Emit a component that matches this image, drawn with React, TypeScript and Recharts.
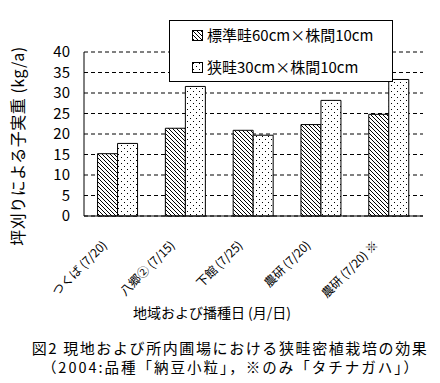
import {Bar, BarChart, CartesianGrid, XAxis, YAxis} from 'recharts';

const sites = ['つくば (7/20)', '八郷② (7/15)', '下館 (7/25)', '農研 (7/20)', '農研 (7/20) ※'];
const standardYield = [15.2, 21.4, 20.9, 22.3, 24.8];
const narrowYield = [17.7, 31.6, 19.7, 28.2, 33.3];
const yTicks = [0, 5, 10, 15, 20, 25, 30, 35, 40];
const seriesNames = ['標準畦60cm×株間10cm', '狭畦30cm×株間10cm'];

const FONT = '"Noto Sans CJK JP", sans-serif';

const data = sites.map((site, i) => ({site, standard: standardYield[i], narrow: narrowYield[i]}));

function Patterns() {
  return (
    <defs>
      <pattern id="hatch" width="4" height="4" patternUnits="userSpaceOnUse">
        <rect width="4" height="4" fill="#fff" />
        <path d="M-1,-1 L5,5 M-1,3 L1,5 M3,-1 L5,1" stroke="#000" strokeWidth="1" />
      </pattern>
      <pattern id="dots" width="6" height="6" patternUnits="userSpaceOnUse">
        <rect width="6" height="6" fill="#fff" />
        <rect x="1" y="1" width="1" height="1" fill="#000" />
        <rect x="4" y="4" width="1" height="1" fill="#000" />
      </pattern>
    </defs>
  );
}

function SiteTick({x, y, payload}: any) {
  const tx = x - 10;
  const ty = y + 22;
  return (
    <text x={tx} y={ty} transform={`rotate(-45 ${tx} ${ty})`} textAnchor="end" fontSize={12} fontFamily={FONT} fill="#000">
      {payload.value}
    </text>
  );
}

export default function App() {
  return (
    <div style={{position: 'absolute', left: 0, top: 0, width: 440, height: 383, background: '#fff', fontFamily: FONT}}>
      <BarChart width={440} height={383} data={data} margin={{top: 52, right: 17, bottom: 67, left: 54}} barGap={0} barCategoryGap="20%">
        <Patterns />
        <CartesianGrid vertical={false} stroke="#000" strokeDasharray="4 3" />
        <XAxis dataKey="site" height={100} interval={0} tick={<SiteTick />} tickLine={false} axisLine={{stroke: '#000'}} />
        <YAxis
          width={30}
          domain={[0, 40]}
          ticks={yTicks}
          interval={0}
          tickLine={false}
          tickMargin={8}
          axisLine={{stroke: '#000'}}
          tick={{fill: '#000', fontSize: 15, fontFamily: FONT}}
        />
        <Bar dataKey="standard" fill="url(#hatch)" stroke="#000" strokeWidth={1} isAnimationActive={false} />
        <Bar dataKey="narrow" fill="url(#dots)" stroke="#000" strokeWidth={1} isAnimationActive={false} />
      </BarChart>

      <div
        style={{
          position: 'absolute',
          left: 169,
          top: 20,
          width: 222,
          height: 60,
          border: '1px solid #000',
          background: '#fff',
          fontSize: 15,
          color: '#000',
        }}
      >
        {seriesNames.map((name, i) => (
          <div key={name} style={{position: 'absolute', left: 22, top: i === 0 ? 5 : 37, display: 'flex', alignItems: 'center', whiteSpace: 'nowrap'}}>
            <svg width={11} height={11} style={{marginRight: 4}}>
              <Patterns />
              <rect x={0.5} y={0.5} width={10} height={10} fill={i === 0 ? 'url(#hatch)' : 'url(#dots)'} stroke="#000" />
            </svg>
            <span style={{lineHeight: '18px'}}>{name}</span>
          </div>
        ))}
      </div>

      <div
        style={{
          position: 'absolute',
          left: 17,
          top: 146,
          transform: 'translate(-50%, -50%) rotate(-90deg)',
          whiteSpace: 'nowrap',
          fontSize: 16,
          letterSpacing: '0.5px',
          color: '#000',
        }}
      >
        坪刈りによる子実重 (kg/a)
      </div>

      <div style={{position: 'absolute', left: 0, width: 424, top: 303, textAlign: 'center', fontSize: 14, lineHeight: '18px', color: '#000'}}>
        地域および播種日 (月/日)
      </div>
      <div style={{position: 'absolute', left: 0, width: 460, top: 340, textAlign: 'center', fontSize: 15, letterSpacing: '1.6px', lineHeight: '16px', color: '#000', whiteSpace: 'nowrap'}}>
        図2 現地および所内圃場における狭畦密植栽培の効果
      </div>
      <div style={{position: 'absolute', left: 0, width: 462, top: 359, textAlign: 'center', fontSize: 14.5, letterSpacing: '2px', lineHeight: '16px', color: '#000', whiteSpace: 'nowrap'}}>
        （2004:品種「納豆小粒」，※のみ「タチナガハ」）
      </div>
    </div>
  );
}
